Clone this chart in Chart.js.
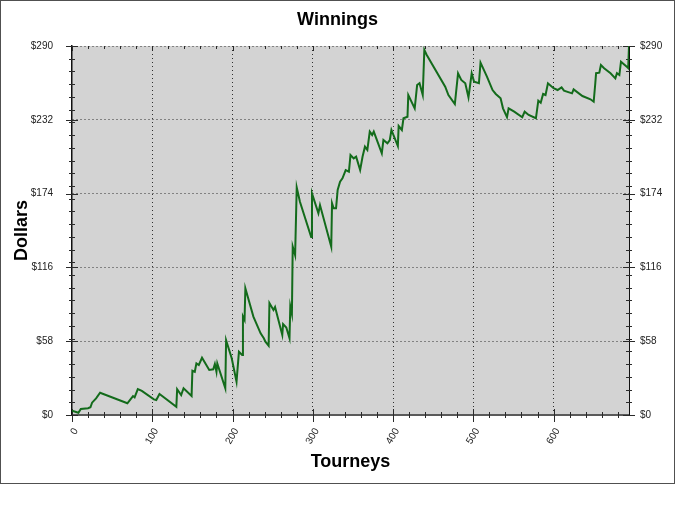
<!DOCTYPE html>
<html>
<head>
<meta charset="utf-8">
<script src="https://cdn.jsdelivr.net/npm/chart.js@4.4.1/dist/chart.umd.min.js"></script>
<style>
  body { margin: 0; background: #fff; }
  #frame { position: absolute; left: 0; top: 0; width: 673px; height: 482px; border: 1px solid #505050; }
  canvas { display: block; }
</style>
</head>
<body>
<div id="frame"><canvas id="winningsChart" width="673" height="482"></canvas></div>
<script>
// tourney number and running total at each turning point
const tourneys = [0, 8, 11, 20, 23, 25, 30, 35, 69, 76,
  78, 82, 87, 102, 105, 109, 130, 131, 136, 139,
  149, 150, 153, 155, 158, 162, 171, 176, 178, 180,
  181, 191, 192, 199, 205, 208, 212, 213, 215, 216,
  226, 235, 239, 241, 245, 246, 251, 253, 262, 263,
  267, 271, 272, 274, 275, 278, 280, 284, 298, 299,
  307, 309, 323, 324, 326, 329, 331, 334, 337, 341,
  345, 347, 351, 354, 359, 362, 365, 368, 371, 374,
  376, 386, 388, 393, 396, 398, 406, 407, 411, 413,
  418, 419, 427, 430, 433, 437, 439, 442, 465, 469,
  477, 481, 485, 490, 494, 498, 501, 507, 509, 517,
  524, 528, 534, 537, 542, 544, 551, 561, 564, 569,
  578, 581, 584, 587, 590, 593, 600, 605, 610, 613,
  623, 625, 636, 646, 650, 652, 653, 657, 659, 663,
  671, 677, 679, 682, 684, 692, 693, 694];

const dollars = [3.4, 1.8, 4.7, 5.3, 6.1, 9.7, 13.1, 17.5, 9.2, 14.9,
  13.9, 20.4, 18.9, 12.3, 11.8, 16.5, 6.5, 20.2, 15.7, 21,
  14.9, 34.8, 34, 40.6, 39.3, 45, 35.4, 35.9, 40.1, 34,
  40.6, 21, 58.7, 44.6, 26.2, 49.7, 47.2, 77.4, 74.7, 99.6,
  77.3, 64.2, 60.3, 57.6, 54.5, 88, 82.5, 84.9, 62.9, 71.5,
  68.8, 60.3, 85.4, 79.4, 132.3, 125.7, 178.8, 167.6, 139.9, 174.2,
  158.5, 165, 132.3, 166.4, 162.4, 162.4, 176.8, 183.4, 186, 192.5,
  191.2, 204.3, 201.7, 203, 192.5, 203, 210.9, 208.3, 222.7, 220.1,
  222.7, 205.7, 216.1, 213.5, 216.1, 224, 211.4, 227.1, 224, 233.2,
  234.4, 251.5, 241, 259.3, 260.7, 251.5, 286.9, 282.9, 258, 251.5,
  244.4, 268.5, 263.3, 260.7, 249.7, 268.5, 261.9, 260.7, 276.9, 265.9,
  255.4, 252.3, 248.9, 241, 234, 241, 238.4, 234, 238.4, 235.8,
  233.2, 247, 245.4, 252.3, 251.5, 260.7, 256.8, 255.4, 257.5, 254.9,
  252.8, 255.9, 250.7, 248.1, 246.2, 260.7, 268.6, 269, 275.1, 272.5,
  268.6, 264.6, 268.6, 267.2, 277.7, 273.3, 272.7, 290];

const xTickValues = [0, 100, 200, 300, 400, 500, 600];
const yTickValues = [0, 58, 116, 174, 232, 290];

const fontFamily = "'Liberation Sans', Arial, sans-serif";

// grey plot background, then the little tick marks on all four sides
const plotFrame = {
    id: 'plotFrame',
    beforeDraw(chart) {
        const a = chart.chartArea, ctx = chart.ctx;
        ctx.save();
        ctx.fillStyle = '#d3d3d3';
        ctx.fillRect(a.left, a.top, a.right - a.left, a.bottom - a.top);
        ctx.restore();
    },
    beforeDatasetsDraw(chart) {
        const a = chart.chartArea, ctx = chart.ctx;
        const xs = chart.scales.x, ys = chart.scales.y;
        ctx.save();
        ctx.strokeStyle = '#2a2a2a';
        ctx.lineWidth = 1;
        ctx.beginPath();
        for (let v = 0; v <= xs.max; v += 20) {
            const px = Math.round(xs.getPixelForValue(v)) + 0.5;
            const major = xTickValues.includes(v);
            ctx.moveTo(px, a.bottom - (major ? 6 : 3));
            ctx.lineTo(px, a.bottom + (major ? 7 : 3));
            ctx.moveTo(px, a.top);
            ctx.lineTo(px, a.top + (major ? 5 : 3));
        }
        const yVals = [];
        for (let v = 0; v <= ys.max; v += 10) yVals.push(v);
        yTickValues.forEach(v => { if (!yVals.includes(v)) yVals.push(v); });
        yVals.forEach(v => {
            const py = Math.round(ys.getPixelForValue(v)) + 0.5;
            const len = yTickValues.includes(v) ? 6 : 3;
            ctx.moveTo(a.left - len, py);
            ctx.lineTo(a.left + len, py);
            ctx.moveTo(a.right - len, py);
            ctx.lineTo(a.right + len, py);
        });
        ctx.stroke();
        ctx.restore();
    }
};

const gridColor = c => (c.tick && c.tick.value === 0) ? 'rgba(0,0,0,0)' : '#303030';
const tickFont = { family: fontFamily, size: 10 };
const titleFont = { family: fontFamily, size: 18, weight: 'bold' };

new Chart(document.getElementById('winningsChart').getContext('2d'), {
    type: 'line',
    data: {
        datasets: [{
            label: 'Winnings',
            data: tourneys.map((t, i) => ({ x: t, y: dollars[i] })),
            borderColor: '#136b1b',
            borderWidth: 2,
            pointRadius: 0,
            fill: false,
            tension: 0,
            yAxisID: 'y'
        }]
    },
    options: {
        responsive: false,
        animation: false,
        devicePixelRatio: 1,
        layout: { padding: 0 },
        plugins: {
            legend: { display: false },
            tooltip: { enabled: false },
            title: {
                display: true,
                text: 'Winnings',
                color: '#000',
                font: titleFont,
                padding: { top: 8, bottom: 15.4 }
            }
        },
        scales: {
            x: {
                type: 'linear',
                min: 0,
                max: 694,
                afterBuildTicks: s => { s.ticks = xTickValues.map(v => ({ value: v })); },
                afterFit: s => { s.height = 68; },
                ticks: {
                    minRotation: 60, maxRotation: 60, autoSkip: false,
                    padding: 11, labelOffset: 4,
                    color: '#222', font: tickFont
                },
                grid: { color: gridColor, drawTicks: false },
                border: { color: '#5a5a5a', width: 2, dash: [1, 3] },
                title: {
                    display: true, text: 'Tourneys', color: '#000', font: titleFont,
                    padding: { top: 0, bottom: 10 }
                }
            },
            y: {
                position: 'left',
                min: 0,
                max: 290,
                afterBuildTicks: s => { s.ticks = yTickValues.map(v => ({ value: v })); },
                afterFit: s => { s.width = 71; },
                ticks: {
                    padding: 19, color: '#222', font: tickFont,
                    callback: v => '$' + v
                },
                grid: { color: gridColor, drawTicks: false },
                border: { color: '#111', width: 1.5, dash: [1, 3] },
                title: {
                    display: true, text: 'Dollars', color: '#000', font: titleFont,
                    padding: { top: 10, bottom: 0 }
                }
            },
            y2: {
                position: 'right',
                min: 0,
                max: 290,
                afterBuildTicks: s => { s.ticks = yTickValues.map(v => ({ value: v })); },
                afterFit: s => { s.width = 45; },
                ticks: {
                    padding: 11, color: '#222', font: tickFont,
                    callback: v => '$' + v
                },
                grid: { display: false, drawTicks: false },
                border: { color: '#111', width: 1 }
            }
        }
    },
    plugins: [plotFrame]
});
</script>
</body>
</html>
